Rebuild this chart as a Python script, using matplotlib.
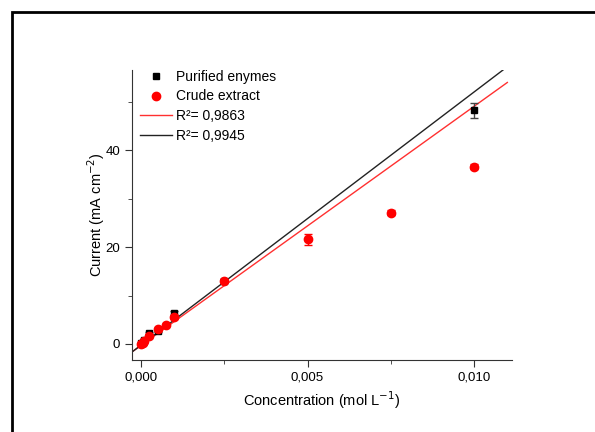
import matplotlib
matplotlib.use("Agg")
import matplotlib.pyplot as plt
from matplotlib.ticker import FuncFormatter, MultipleLocator
from matplotlib.patches import Rectangle
from matplotlib.lines import Line2D

plt.rcParams['font.family'] = ['Liberation Sans', 'DejaVu Sans']

# Data
conc_pur = [0.0, 0.00005, 0.0001, 0.00025, 0.0005, 0.001, 0.0025, 0.01]
cur_pur = [0.2, 0.5, 0.9, 2.3, 2.7, 6.4, 13.0, 48.2]
err_pur = [0.1, 0.1, 0.1, 0.2, 0.2, 0.4, 0.3, 1.5]

conc_crude = [0.0, 0.00005, 0.0001, 0.00025, 0.0005, 0.00075, 0.001, 0.0025, 0.005, 0.0075, 0.01]
cur_crude = [0.1, 0.3, 0.6, 1.6, 3.0, 4.0, 5.5, 13.0, 21.6, 27.1, 36.6]
err_crude = [0.1, 0.1, 0.1, 0.2, 0.2, 0.2, 0.3, 0.3, 1.1, 0.5, 0.5]

# Linear fits (slope, intercept, x range)
fit_red = (4930.0, -0.3, [-0.00027, 0.011])
fit_black = (5220.0, -0.24, [-0.00027, 0.01087])
labels_fit = ["R\u00b2= 0,9863", "R\u00b2= 0,9945"]

fig = plt.figure(figsize=(5.95, 4.32), dpi=100)
ax = fig.add_axes([132/595, 1-360/432, (512-132)/595, (360-70)/432])

# frame around figure
fig.patches.append(Rectangle((12/595, -0.1), 1.2, 1-12/432+0.1, transform=fig.transFigure,
                             fill=False, edgecolor='black', linewidth=2, zorder=0))

ax.errorbar(conc_pur, cur_pur, yerr=err_pur, fmt='s', color='black', ms=5,
            ecolor='#444444', elinewidth=1, capsize=3, zorder=3)
ax.errorbar(conc_crude, cur_crude, yerr=err_crude, fmt='o', color='red', ms=6,
            ecolor='red', elinewidth=1, capsize=3, zorder=4)

line_handles = []
for (m, b, xr), c, lab in [(fit_red, '#ff3030', labels_fit[0]), (fit_black, '#222222', labels_fit[1])]:
    ys = [m * x + b for x in xr]
    h, = ax.plot(xr, ys, color=c, lw=1, label=lab, zorder=2)
    line_handles.append(h)

ax.set_xlim(-0.00027, 0.01114)
ax.set_ylim(-3.3, 56.5)
ax.spines['top'].set_visible(False)
ax.spines['right'].set_visible(False)
for s in ['left', 'bottom']:
    ax.spines[s].set_color('#333333')
ax.xaxis.set_major_locator(MultipleLocator(0.005))
ax.xaxis.set_minor_locator(MultipleLocator(0.0025))
ax.yaxis.set_major_locator(MultipleLocator(20))
ax.yaxis.set_minor_locator(MultipleLocator(10))
ax.xaxis.set_major_formatter(FuncFormatter(lambda v, p: f"{v:.3f}".replace('.', ',')))
ax.yaxis.set_major_formatter(FuncFormatter(lambda v, p: f"{v:.0f}"))
ax.tick_params(which='major', direction='out', length=5, labelsize=9.5, color='#333333')
ax.tick_params(which='minor', direction='out', length=3, color='#333333')

ax.set_xlabel("Concentration (mol L$^{-1}$)", fontsize=10.5, labelpad=4)
ax.set_ylabel("Current (mA cm$^{-2}$)", fontsize=10.5, labelpad=-1)

h_pur = Line2D([], [], ls='none', marker='s', color='black', ms=5)
h_crude = Line2D([], [], ls='none', marker='o', color='red', ms=6)
ax.legend([h_pur, h_crude] + line_handles,
          ['Purified enymes', 'Crude extract'] + labels_fit,
          loc='upper left', bbox_to_anchor=(0.0, 1.03), frameon=False, fontsize=10,
          handlelength=2.3, handletextpad=0.3, labelspacing=0.42, borderaxespad=0.2)

fig.savefig("out.png", dpi=100)
